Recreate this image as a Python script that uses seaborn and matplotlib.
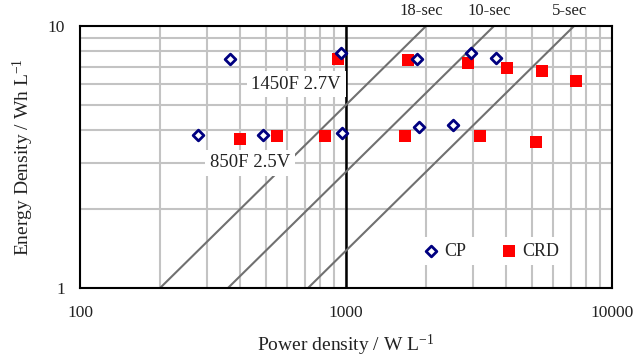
import numpy as np
import pandas as pd
import matplotlib
matplotlib.use("Agg")
import matplotlib.pyplot as plt
import matplotlib.transforms as mtransforms
from matplotlib.ticker import LogLocator, NullFormatter
import seaborn as sns

# ---- data ----
cp_power = [278, 366, 487, 955, 968, 1844, 1881, 2519, 2943, 3664]
cp_energy = [3.84, 7.48, 3.84, 7.88, 3.92, 7.48, 4.11, 4.18, 7.87, 7.55]

crd_power = [400, 550, 834, 930, 1715, 1671, 2867, 3190, 4040, 5456, 5165, 7304]
crd_energy = [3.69, 3.81, 3.80, 7.48, 7.42, 3.80, 7.24, 3.80, 6.90, 6.71, 3.60, 6.15]

time_constants = [18, 10, 5]          # seconds, E = P * t / 3600
time_labels = ["18-sec", "10-sec", "5-sec"]

cell_labels = ["1450F 2.7V", "850F 2.5V"]
cell_label_pos = [(650, 6.0), (435, 3.0)]

# ---- style ----
sns.set_theme(style="white")
plt.rcParams["font.family"] = ["Liberation Serif", "DejaVu Serif"]
plt.rcParams["mathtext.fontset"] = "custom"
plt.rcParams["mathtext.rm"] = "Liberation Serif"
plt.rcParams["mathtext.it"] = "Liberation Serif:italic"

fig = plt.figure(figsize=(6.34, 3.60), dpi=100)
ax = fig.add_axes([80 / 634, 1 - 288 / 360, 532 / 634, 262 / 360])

ax.set_xscale("log")
ax.set_yscale("log")
ax.set_xlim(100, 10000)
ax.set_ylim(1, 10)

grid_c = "#c3c3c3"
ax.set_axisbelow(True)

# thick black line at 1000
ax.axvline(1000, color="black", linewidth=1.8, zorder=1)

# constant time lines
for t in time_constants:
    e = np.array([1.0, 10.0])
    p = e * 3600.0 / t
    df_line = pd.DataFrame({"P": p, "E": e})
    sns.lineplot(data=df_line, x="P", y="E", ax=ax, color="#707070",
                 linewidth=1.5, zorder=2, legend=False)

trans = mtransforms.blended_transform_factory(ax.transData, ax.transAxes)
for t, lab in zip(time_constants, time_labels):
    ptop = 10.0 * 3600.0 / t
    ax.text(ptop * 0.96, 1.025, lab, transform=trans, ha="center", va="bottom",
            fontsize=12, color="#222222")

for lab, (px, py) in zip(cell_labels, cell_label_pos):
    ax.text(px, py, lab, ha="center", va="center", fontsize=13.5, color="#222222",
            zorder=3,
            bbox=dict(boxstyle="square,pad=0.25", facecolor="white", edgecolor="none"))

# data points
sns.scatterplot(x=cp_power, y=cp_energy, ax=ax, marker="D", s=30,
                facecolor="white", edgecolor="#000080", linewidth=2.0,
                label="CP", zorder=5)
sns.scatterplot(x=crd_power, y=crd_energy, ax=ax, marker="s", s=70,
                color="#ff0000", edgecolor="#ff0000", linewidth=0,
                label="CRD", zorder=4)

leg = ax.legend(loc="center", bbox_to_anchor=(0.77, 0.14), ncol=2,
                frameon=True, facecolor="white", edgecolor="none", framealpha=1,
                fontsize=13, handletextpad=0.1, columnspacing=1.8,
                borderpad=0.3, handlelength=1.2)
leg.set_zorder(6)

for s in ax.spines.values():
    s.set_visible(True)
    s.set_color("black")
    s.set_linewidth(1.5)

ax.set_xticks([100, 1000, 10000])
ax.set_xticklabels(["100", "1000", "10000"])
ax.set_yticks([1, 10])
ax.set_yticklabels(["1", "10"])
ax.xaxis.set_minor_locator(LogLocator(base=10, subs=np.arange(2, 10)))
ax.yaxis.set_minor_locator(LogLocator(base=10, subs=np.arange(2, 10)))
ax.xaxis.set_minor_formatter(NullFormatter())
ax.yaxis.set_minor_formatter(NullFormatter())
ax.grid(True, which="minor", color=grid_c, linewidth=1.5)
ax.grid(True, which="major", color=grid_c, linewidth=1.5)
ax.tick_params(axis="both", which="minor", length=0)
ax.tick_params(axis="both", which="major", direction="out", length=5,
               width=1.2, color="black", labelsize=12.5, labelcolor="#222222")
ax.tick_params(axis="x", which="major", pad=7)
ax.tick_params(axis="y", which="major", pad=6)

ax.set_xlabel(r"Power density / W L$^{-1}$", fontsize=14, color="#222222",
              labelpad=9)
ax.set_ylabel(r"Energy Density / Wh L$^{-1}$", fontsize=14, color="#222222",
              labelpad=8)

fig.savefig("out.png", dpi=100)
